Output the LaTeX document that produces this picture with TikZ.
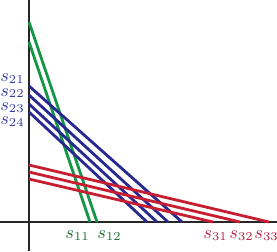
\documentclass[tikz,border=0pt]{standalone}
\definecolor{gl}{RGB}{20,150,70}
\definecolor{bl}{RGB}{40,40,145}
\definecolor{rl}{RGB}{200,30,50}
\definecolor{gt}{RGB}{30,110,55}
\definecolor{bt}{RGB}{55,60,165}
\definecolor{rt}{RGB}{185,35,70}
\begin{document}
\begin{tikzpicture}[x=0.5pt,y=-0.5pt,
  axis/.style={draw=black!85,line width=0.7pt},
  gline/.style={draw=gl,line width=1.4pt},
  bline/.style={draw=bl,line width=1.4pt},
  rline/.style={draw=rl,line width=1.4pt},
  lab/.style={inner sep=0pt,font=\fontsize{8.8}{10}\selectfont},
  glab/.style={lab,text=gt,anchor=base west},
  blab/.style={lab,text=bt,anchor=base east},
  rlab/.style={lab,text=rt,anchor=base west}]
\useasboundingbox (0,0) rectangle (277,251);
% axes
\coordinate (xl) at (0,222); \coordinate (xr) at (277,222);
\coordinate (yt) at (29,0); \coordinate (yb) at (29,251);
\draw[axis] (xl) -- (xr);
\draw[axis] (yt) -- (yb);
% green
\coordinate (g1a) at (29,22); \coordinate (g1b) at (97,222);
\coordinate (g2a) at (29,42); \coordinate (g2b) at (90,222);
\draw[gline] (g1a) -- (g1b);
\draw[gline] (g2a) -- (g2b);
% blue
\coordinate (b1a) at (29,86);  \coordinate (b1b) at (182,222);
\coordinate (b2a) at (29,95);  \coordinate (b2b) at (168,222);
\coordinate (b3a) at (29,104); \coordinate (b3b) at (157,222);
\coordinate (b4a) at (29,112); \coordinate (b4b) at (147,222);
\draw[bline] (b1a) -- (b1b);
\draw[bline] (b2a) -- (b2b);
\draw[bline] (b3a) -- (b3b);
\draw[bline] (b4a) -- (b4b);
% red
\coordinate (r1a) at (29,165); \coordinate (r1b) at (269,222);
\coordinate (r2a) at (29,172); \coordinate (r2b) at (240,222);
\coordinate (r3a) at (29,179); \coordinate (r3b) at (213,222);
\draw[rline] (r1a) -- (r1b);
\draw[rline] (r2a) -- (r2b);
\draw[rline] (r3a) -- (r3b);
% labels
\node[blab] (s21) at (25,82) {$s_{21}$};
\node[blab] (s22) at (25,96) {$s_{22}$};
\node[blab] (s23) at (25,110) {$s_{23}$};
\node[blab] (s24) at (25,124) {$s_{24}$};
\node[glab] (s11) at (65,238) {$s_{11}$};
\node[glab] (s12) at (97,238) {$s_{12}$};
\node[rlab] (s31) at (203,238) {$s_{31}$};
\node[rlab] (s32) at (229,238) {$s_{32}$};
\node[rlab] (s33) at (254,238) {$s_{33}$};
\end{tikzpicture}
\end{document}
